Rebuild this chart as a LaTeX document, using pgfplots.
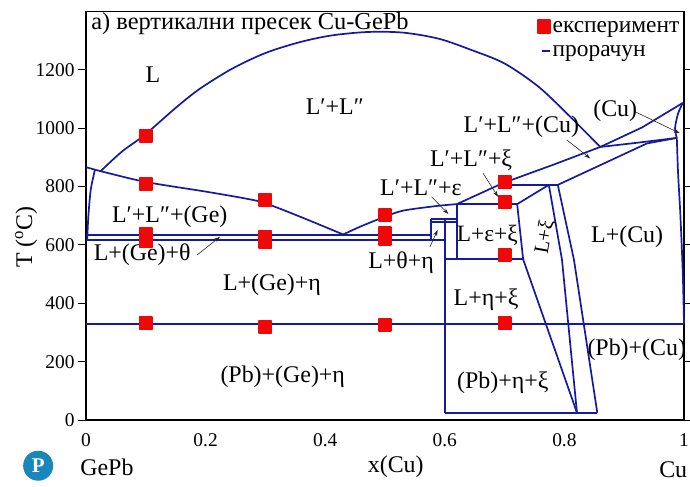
\documentclass[border=0pt]{standalone}
\usepackage{fontspec}
\setmainfont{Liberation Serif}
\usepackage{pgfplots}
\pgfplotsset{compat=1.18}
\usetikzlibrary{arrows.meta}
\definecolor{pdblue}{RGB}{22,26,158}
\definecolor{pdred}{RGB}{238,8,8}
\definecolor{logoc}{RGB}{25,135,185}
\newcommand{\lf}{\fontsize{24}{27}\selectfont}
\begin{document}
\begin{tikzpicture}
\begin{axis}[
  scale only axis, width=598bp, height=408.4bp,
  xmin=0, xmax=1, ymin=0, ymax=1400,
  xtick={0,0.2,0.4,0.6,0.8,1}, xticklabels={0,0.2,0.4,0.6,0.8,1},
  ytick={0,200,400,600,800,1000,1200}, yticklabels={0,200,400,600,800,1000,1200},
  axis line style={line width=1.6bp, black},
  tick align=outside,
  x tick style={draw=none},
  y tick style={line width=1bp, black},
  major tick length=8bp,
  tick label style={font=\fontsize{19.5}{22}\selectfont},
  xticklabel style={yshift=-2bp},
  clip=false,
  legend style={at={(rel axis cs:0.995,0.988)}, anchor=north east, draw=none, fill=none,
    font=\fontsize{23.5}{26}\selectfont, inner sep=0pt, row sep=4bp,
    nodes={text height=14bp, text depth=3bp, inner sep=1.5bp}},
  legend cell align=left,
  every axis plot/.append style={line width=1.7bp, pdblue, line join=round},
]
% experiment
\addplot[only marks, mark=square*, mark size=6.2bp, draw=pdred, fill=pdred,
  legend image code/.code={\fill[pdred] (0bp,-6.5bp) rectangle (12bp,6.5bp);}]
  coordinates {(0.1,974) (0.1,809) (0.1,637) (0.1,613) (0.1,332)
               (0.3,754) (0.3,627) (0.3,612) (0.3,319)
               (0.5,703) (0.5,640) (0.5,620) (0.5,326)
               (0.7,816) (0.7,747) (0.7,566) (0.7,332)};
\addlegendentry{експеримент}
% T = 328 horizontal
\addplot[legend image code/.code={\draw[pdblue, line width=1.8bp] (4bp,0bp) -- (12bp,0bp);}]
  coordinates {(0,328) (1,328)};
\addlegendentry{прорачун}
% dome
\addplot[smooth, forget plot] coordinates {(0.0245,853) (0.06,920) (0.098,977) (0.15,1070) (0.19,1135) (0.245,1205) (0.30,1258) (0.357,1295) (0.41,1318) (0.47,1330) (0.53,1328) (0.59,1307) (0.645,1268) (0.70,1222) (0.757,1142) (0.81,1039) (0.86,936)};
% L'+L'' lower boundary (Ge side)
\addplot[smooth, forget plot] coordinates {(0,867) (0.0245,853) (0.1,816) (0.2,783) (0.27,758) (0.3,743) (0.358,697) (0.43,636)};
% rising branch
\addplot[smooth, forget plot] coordinates {(0.43,636) (0.46,664) (0.5,697) (0.531,718) (0.588,734) (0.62,740)};
% b line to Cu melting
\addplot[forget plot] coordinates {(0.62,740) (0.697,812) (0.78,874) (0.86,936) (0.93,1003) (0.998,1087)};
% left liquidus
\addplot[smooth, forget plot] coordinates {(0.002,617) (0.004,700) (0.008,790) (0.015,858)};
% horizontals
\addplot[forget plot] coordinates {(0,635) (0.577,635)};
\addplot[forget plot] coordinates {(0,617) (0.6,617)};
\addplot[forget plot] coordinates {(0.577,617) (0.577,690)};
\addplot[forget plot] coordinates {(0.577,690) (0.62,690)};
\addplot[forget plot] coordinates {(0.577,678) (0.62,678)};
\addplot[forget plot] coordinates {(0.6,690) (0.6,25)};
\addplot[forget plot] coordinates {(0.62,740) (0.62,551)};
\addplot[forget plot] coordinates {(0.6,551) (0.731,551)};
\addplot[forget plot] coordinates {(0.62,740) (0.721,740)};
\addplot[forget plot] coordinates {(0.721,740) (0.731,551) (0.821,25)};
\addplot[forget plot] coordinates {(0.721,740) (0.774,806)};
\addplot[forget plot] coordinates {(0.69,806) (0.789,806)};
\addplot[forget plot] coordinates {(0.774,806) (0.796,549) (0.821,25)};
\addplot[forget plot] coordinates {(0.789,806) (0.816,549) (0.855,25)};
\addplot[forget plot] coordinates {(0.6,25) (0.855,25)};
% Cu side
\addplot[forget plot] coordinates {(0.86,936) (0.92,950) (0.988,967)};
\addplot[forget plot] coordinates {(0.789,806) (0.938,948) (0.988,967)};
\addplot[smooth, forget plot] coordinates {(0.988,967) (0.985,1000) (0.99,1050) (0.998,1087)};
\addplot[smooth, forget plot] coordinates {(0.988,967) (0.99,850) (0.994,700) (0.998,500) (1,330)};

% labels
\node[font=\fontsize{24.5}{27}\selectfont, anchor=west] at (axis cs:0.003,1360) {a) вертикални пресек Cu-GePb};
\node[font=\lf] at (axis cs:0.112,1183) {L};
\node[font=\lf] at (axis cs:0.416,1073) {L′+L″};
\node[font=\lf] at (axis cs:0.14,696) {L′+L″+(Ge)};
\node[font=\lf] at (axis cs:0.094,566) {L+(Ge)+θ};
\node[font=\lf] at (axis cs:0.311,463) {L+(Ge)+η};
\node[font=\lf] at (axis cs:0.329,147) {(Pb)+(Ge)+η};
\node[font=\lf] at (axis cs:0.527,538) {L+θ+η};
\node[font=\lf] at (axis cs:0.56,795) {L′+L″+ε};
\node[font=\lf] at (axis cs:0.644,890) {L′+L″+ξ};
\node[font=\lf] at (axis cs:0.728,1004) {L′+L″+(Cu)};
\node[font=\lf] at (axis cs:0.885,1060) {(Cu)};
\node[font=\fontsize{23.5}{27}\selectfont] at (axis cs:0.671,634) {L+ε+ξ};
\node[font=\fontsize{21}{23}\selectfont, rotate=80, inner sep=0pt] at (axis cs:0.768,627) {L+ξ};
\node[font=\lf] at (axis cs:0.905,627) {L+(Cu)};
\node[font=\lf] at (axis cs:0.669,411) {L+η+ξ};
\node[font=\lf] at (axis cs:0.697,127) {(Pb)+η+ξ};
\node[font=\lf] at (axis cs:0.921,240) {(Pb)+(Cu)};
% arrows
\begin{scope}[-{Stealth[length=6bp,width=4bp]}, black!85, line width=0.6bp]
\draw (axis cs:0.186,566) -- (axis cs:0.224,628);
\draw (axis cs:0.575,593) -- (axis cs:0.588,651);
\draw (axis cs:0.578,765) -- (axis cs:0.606,706);
\draw (axis cs:0.664,846) -- (axis cs:0.689,765);
\draw (axis cs:0.804,960) -- (axis cs:0.843,897);
\draw (axis cs:0.918,1057) -- (axis cs:0.993,983);
\end{scope}
% axis labels
\node[font=\fontsize{24}{26}\selectfont] at (rel axis cs:0.518,-0.115) {x(Cu)};
\node[font=\fontsize{24}{26}\selectfont] at (rel axis cs:0.035,-0.115) {GePb};
\node[font=\fontsize{24}{26}\selectfont] at (rel axis cs:0.982,-0.122) {Cu};
\node[font=\fontsize{24}{26}\selectfont, rotate=90] at (rel axis cs:-0.1,0.448) {T (\textsuperscript{o}C)};
% logo
\fill[logoc] (rel axis cs:-0.08,-0.112) circle[radius=15bp];
\node[font=\bfseries\fontsize{21}{22}\selectfont, white] at (rel axis cs:-0.08,-0.112) {P};
\end{axis}
\pgfresetboundingbox
\useasboundingbox ([xshift=-86bp,yshift=-67bp]current axis.south west) rectangle ([xshift=6bp,yshift=11.6bp]current axis.north east);
\end{tikzpicture}
\end{document}
